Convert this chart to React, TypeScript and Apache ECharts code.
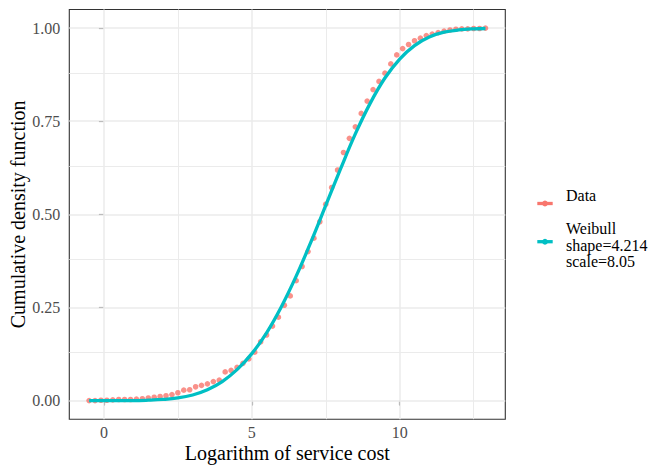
import React, { useEffect, useRef } from "react";
import * as echarts from "echarts";

const dataX = [
  -0.5, -0.3, -0.1, 0.1, 0.3, 0.5, 0.7, 0.9, 1.1, 1.3, 1.5, 1.7, 1.9, 2.1, 2.3, 2.5, 2.7, 2.9,
  3.1, 3.3, 3.5, 3.7, 3.9, 4.1, 4.3, 4.5, 4.7, 4.9, 5.1, 5.3, 5.5, 5.7, 5.9, 6.1, 6.3, 6.5,
  6.7, 6.9, 7.1, 7.3, 7.5, 7.7, 7.9, 8.1, 8.3, 8.5, 8.7, 8.9, 9.1, 9.3, 9.5, 9.7, 9.9, 10.1,
  10.3, 10.5, 10.7, 10.9, 11.1, 11.3, 11.5, 11.7, 11.9, 12.1, 12.3, 12.5, 12.7, 12.9,
];
const dataY = [
  0.0, 0.0, 0.001, 0.001, 0.002, 0.003, 0.003, 0.003, 0.004, 0.005, 0.007, 0.009, 0.011, 0.013,
  0.016, 0.021, 0.028, 0.029, 0.037, 0.041, 0.045, 0.051, 0.055, 0.077, 0.081, 0.089, 0.1,
  0.112, 0.13, 0.158, 0.176, 0.2, 0.224, 0.256, 0.281, 0.322, 0.36, 0.4, 0.436, 0.48, 0.527,
  0.572, 0.619, 0.666, 0.704, 0.735, 0.771, 0.804, 0.835, 0.857, 0.879, 0.904, 0.928, 0.945,
  0.956, 0.966, 0.973, 0.98, 0.984, 0.988, 0.992, 0.995, 0.997, 0.998, 0.998, 0.999, 0.999, 1.0,
];
const curveX = [
  -0.5, 0, 0.5, 1, 1.5, 2, 2.5, 3, 3.5, 4, 4.5, 5, 5.5, 6, 6.5, 7, 7.5, 8, 8.5, 9, 9.5, 10,
  10.5, 11, 11.5, 12, 12.5, 12.9,
];
const curveY = [
  0, 0, 0, 0, 0.001, 0.003, 0.007, 0.015, 0.029, 0.051, 0.083, 0.126, 0.182, 0.252, 0.334,
  0.426, 0.524, 0.622, 0.716, 0.798, 0.866, 0.917, 0.953, 0.976, 0.989, 0.995, 0.998, 0.999,
];
const xTicks = [0, 5, 10];
const xMinor = [2.5, 7.5, 12.5];
const yTicks = [0, 0.25, 0.5, 0.75, 1];
const yMinor = [0.125, 0.375, 0.625, 0.875];
const legendLabels = ["Data", "Weibull", "shape=4.214", "scale=8.05"];

const RED = "#F8766D";
const TEAL = "#00BFC4";
const FONT = "Liberation Serif";

export default function App() {
  const ref = useRef<HTMLDivElement>(null);
  useEffect(() => {
    document.body.style.margin = "0";
    const chart = echarts.init(ref.current!, undefined, { renderer: "svg" });
    const gridLines = [
      ...xMinor.map((v) => ({ xAxis: v, lineStyle: { width: 1.0 } })),
      ...yMinor.map((v) => ({ yAxis: v, lineStyle: { width: 1.0 } })),
      ...xTicks.map((v) => ({ xAxis: v, lineStyle: { width: 1.5 } })),
      ...yTicks.map((v) => ({ yAxis: v, lineStyle: { width: 1.5 } })),
    ];
    const legendText = (text: string, y: number) => ({
      type: "text",
      x: 566,
      y,
      style: {
        text,
        fontFamily: FONT,
        fontSize: 16,
        fill: "#000000",
        verticalAlign: "middle",
        align: "left",
      },
    });
    const option: any = {
      animation: false,
      backgroundColor: "#FFFFFF",
      textStyle: { fontFamily: FONT },
      grid: {
        left: 69.3,
        right: 158.7,
        top: 9.5,
        bottom: 55.8,
        containLabel: false,
        outerBoundsMode: "none",
        show: true,
        borderColor: "#333333",
        borderWidth: 1.1,
        backgroundColor: "transparent",
      },
      xAxis: {
        type: "value",
        min: -1.17,
        max: 13.57,
        name: "Logarithm of service cost",
        nameLocation: "middle",
        nameGap: 24,
        nameMoveOverlap: false,
        nameTextStyle: { fontFamily: FONT, fontSize: 20, color: "#000000" },
        axisLine: { show: false },
        splitLine: { show: false },
        axisTick: {
          show: true,
          customValues: xTicks,
          length: 5,
          lineStyle: { color: "#333333", width: 1.1 },
        },
        axisLabel: {
          customValues: xTicks,
          margin: 5,
          fontFamily: FONT,
          fontSize: 16,
          color: "#4D4D4D",
          formatter: (v: number) => String(v),
        },
      },
      yAxis: {
        type: "value",
        min: -0.05,
        max: 1.05,
        name: "Cumulative density function",
        nameLocation: "middle",
        nameGap: 41,
        nameMoveOverlap: false,
        nameTextStyle: { fontFamily: FONT, fontSize: 20, color: "#000000" },
        axisLine: { show: false },
        splitLine: { show: false },
        axisTick: {
          show: true,
          customValues: yTicks,
          length: 5,
          lineStyle: { color: "#333333", width: 1.1 },
        },
        axisLabel: {
          customValues: yTicks,
          margin: 9,
          fontFamily: FONT,
          fontSize: 16,
          color: "#4D4D4D",
          formatter: (v: number) => v.toFixed(2),
        },
      },
      series: [
        {
          type: "line",
          data: [],
          z: 1,
          silent: true,
          markLine: {
            silent: true,
            symbol: ["none", "none"],
            label: { show: false },
            lineStyle: { color: "#EBEBEB", type: "solid" },
            emphasis: { disabled: true },
            data: gridLines,
            z: 1,
          },
        },
        {
          name: "Data",
          type: "scatter",
          z: 3,
          symbol: "circle",
          symbolSize: 5.6,
          itemStyle: { color: RED },
          data: dataX.map((x, i) => [x, dataY[i]]),
        },
        {
          name: "Weibull",
          type: "line",
          z: 4,
          showSymbol: false,
          smooth: 0.4,
          lineStyle: { color: TEAL, width: 3.3 },
          data: curveX.map((x, i) => [x, curveY[i]]),
        },
      ],
      graphic: [
        { type: "line", shape: { x1: 537.3, y1: 203.5, x2: 552.7, y2: 203.5 }, style: { stroke: RED, lineWidth: 3.3 } },
        { type: "circle", shape: { cx: 545, cy: 203.5, r: 2.9 }, style: { fill: RED } },
        { type: "line", shape: { x1: 537.3, y1: 241.7, x2: 552.7, y2: 241.7 }, style: { stroke: TEAL, lineWidth: 3.3 } },
        { type: "circle", shape: { cx: 545, cy: 241.7, r: 2.9 }, style: { fill: TEAL } },
        legendText(legendLabels[0], 195.4),
        legendText(legendLabels[1], 228),
        legendText(legendLabels[2], 245.3),
        legendText(legendLabels[3], 261.4),
      ],
    };
    chart.setOption(option);
    return () => chart.dispose();
  }, []);
  return (
    <div
      ref={ref}
      style={{ position: "fixed", left: 0, top: 0, width: 664, height: 475, background: "#FFFFFF" }}
    />
  );
}
